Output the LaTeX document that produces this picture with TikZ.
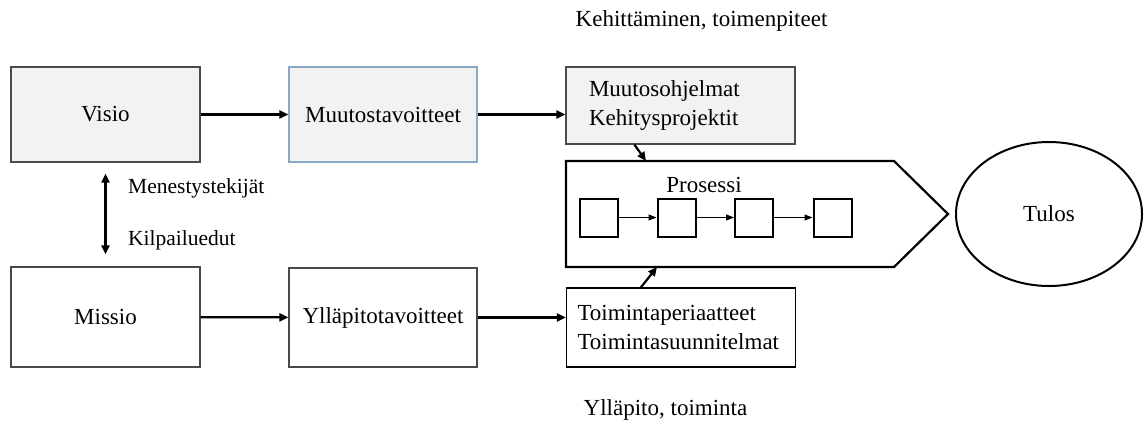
\documentclass[tikz,border=0pt]{standalone}
\usepackage{fontspec}
\setmainfont{Liberation Serif}
\usetikzlibrary{arrows.meta,calc,shapes.geometric}
\definecolor{boxgray}{HTML}{F2F2F2}
\definecolor{edgegray}{HTML}{4A4A4A}
\definecolor{edgeblue}{HTML}{8CA8C8}
\begin{document}
\begin{tikzpicture}[x=1pt,y=-1pt,
  big/.style={font=\fontsize{23}{29}\selectfont},
  small/.style={font=\fontsize{21.5}{25}\selectfont},
  box/.style={big,draw=edgegray,line width=1.2pt,inner sep=0pt,align=center},
  shaded/.style={box,fill=boxgray},
  listbox/.style={box,align=left,inner ysep=0pt},
  square/.style={draw=black,line width=2pt,minimum size=38pt,inner sep=0pt},
  conn/.style={line width=2.2pt,-{Triangle[length=9pt,width=8pt]}},
  twoway/.style={line width=2.2pt,{Triangle[length=9pt,width=8pt]}-{Triangle[length=9pt,width=8pt]}},
  thinconn/.style={line width=1.1pt,-{Triangle[length=8pt,width=6pt]}},
  lbl/.style={inner sep=0pt,anchor=base}]
\useasboundingbox (0,0) rectangle (1147,421);

% strategy boxes
\node[shaded,minimum width=189pt,minimum height=95pt] (visio) at (105.5,114.5) {Visio};
\node[shaded,draw=edgeblue,minimum width=188pt,minimum height=95pt] (muutos) at (383,114.5) {Muutostavoitteet};
\node[box,minimum width=189pt,minimum height=100pt] (missio) at (105.5,317) {Missio};
\node[box,minimum width=188pt,minimum height=99pt] (yllapito) at (383,317.5) {Ylläpitotavoitteet};

% programme boxes
\node[listbox,fill=boxgray,inner xsep=23pt,text width=183pt,minimum height=77pt] (mo) at (680.5,105.5)
  {Muutosohjelmat\\Kehitysprojektit};
\node[listbox,draw=black,inner xsep=11pt,text width=207pt,minimum height=79pt] (tp) at (681,327.5)
  {Toimintaperiaatteet\\Toimintasuunnitelmat};

% process arrow shape
\coordinate (p1) at (566,161);
\coordinate (p2) at (894,161);
\coordinate (p3) at (948,214);
\coordinate (p4) at (894,267);
\coordinate (p5) at (566,267);
\draw[line width=2.2pt,line join=miter] (p1) -- (p2) -- (p3) -- (p4) -- (p5) -- cycle;
\coordinate (ptop) at (646,161);
\coordinate (pbot) at (657,267);
\node[lbl,big] (prosessi) at (704,192) {Prosessi};

\node[square] (sq1) at (598.5,217.5) {};
\node[square] (sq2) at (676.5,217.5) {};
\node[square] (sq3) at (754,217.5) {};
\node[square] (sq4) at (832.5,217.5) {};
\draw[thinconn] (sq1) -- (sq2);
\draw[thinconn] (sq2) -- (sq3);
\draw[thinconn] (sq3) -- (sq4);

% result
\node[ellipse,draw=black,line width=2pt,minimum width=186pt,minimum height=144pt,inner sep=0pt,big] (tulos) at (1049,214) {Tulos};

% free labels
\node[lbl,big] (kehitys) at (701.5,26) {Kehittäminen, toimenpiteet};
\node[lbl,big] (toiminta) at (665.5,415) {Ylläpito, toiminta};
\node[lbl,small,anchor=base west] (menestys) at (128,193) {Menestystekijät};
\node[lbl,small,anchor=base west] (kilpailu) at (128,245) {Kilpailuedut};

% connectors
\draw[conn] (visio) -- (muutos);
\draw[conn] (missio) -- (yllapito);
\draw[conn] (muutos.east) -- (muutos.east -| mo.west);
\draw[conn] (yllapito.east) -- (yllapito.east -| tp.west);
\draw[twoway] ([yshift=-11pt]visio.south) -- ([yshift=12pt]missio.north);
\draw[conn] ($(mo.south west)+(69,0)$) -- (ptop);
\draw[conn] ($(tp.north west)+(75,0)$) -- (pbot);
\end{tikzpicture}
\end{document}
